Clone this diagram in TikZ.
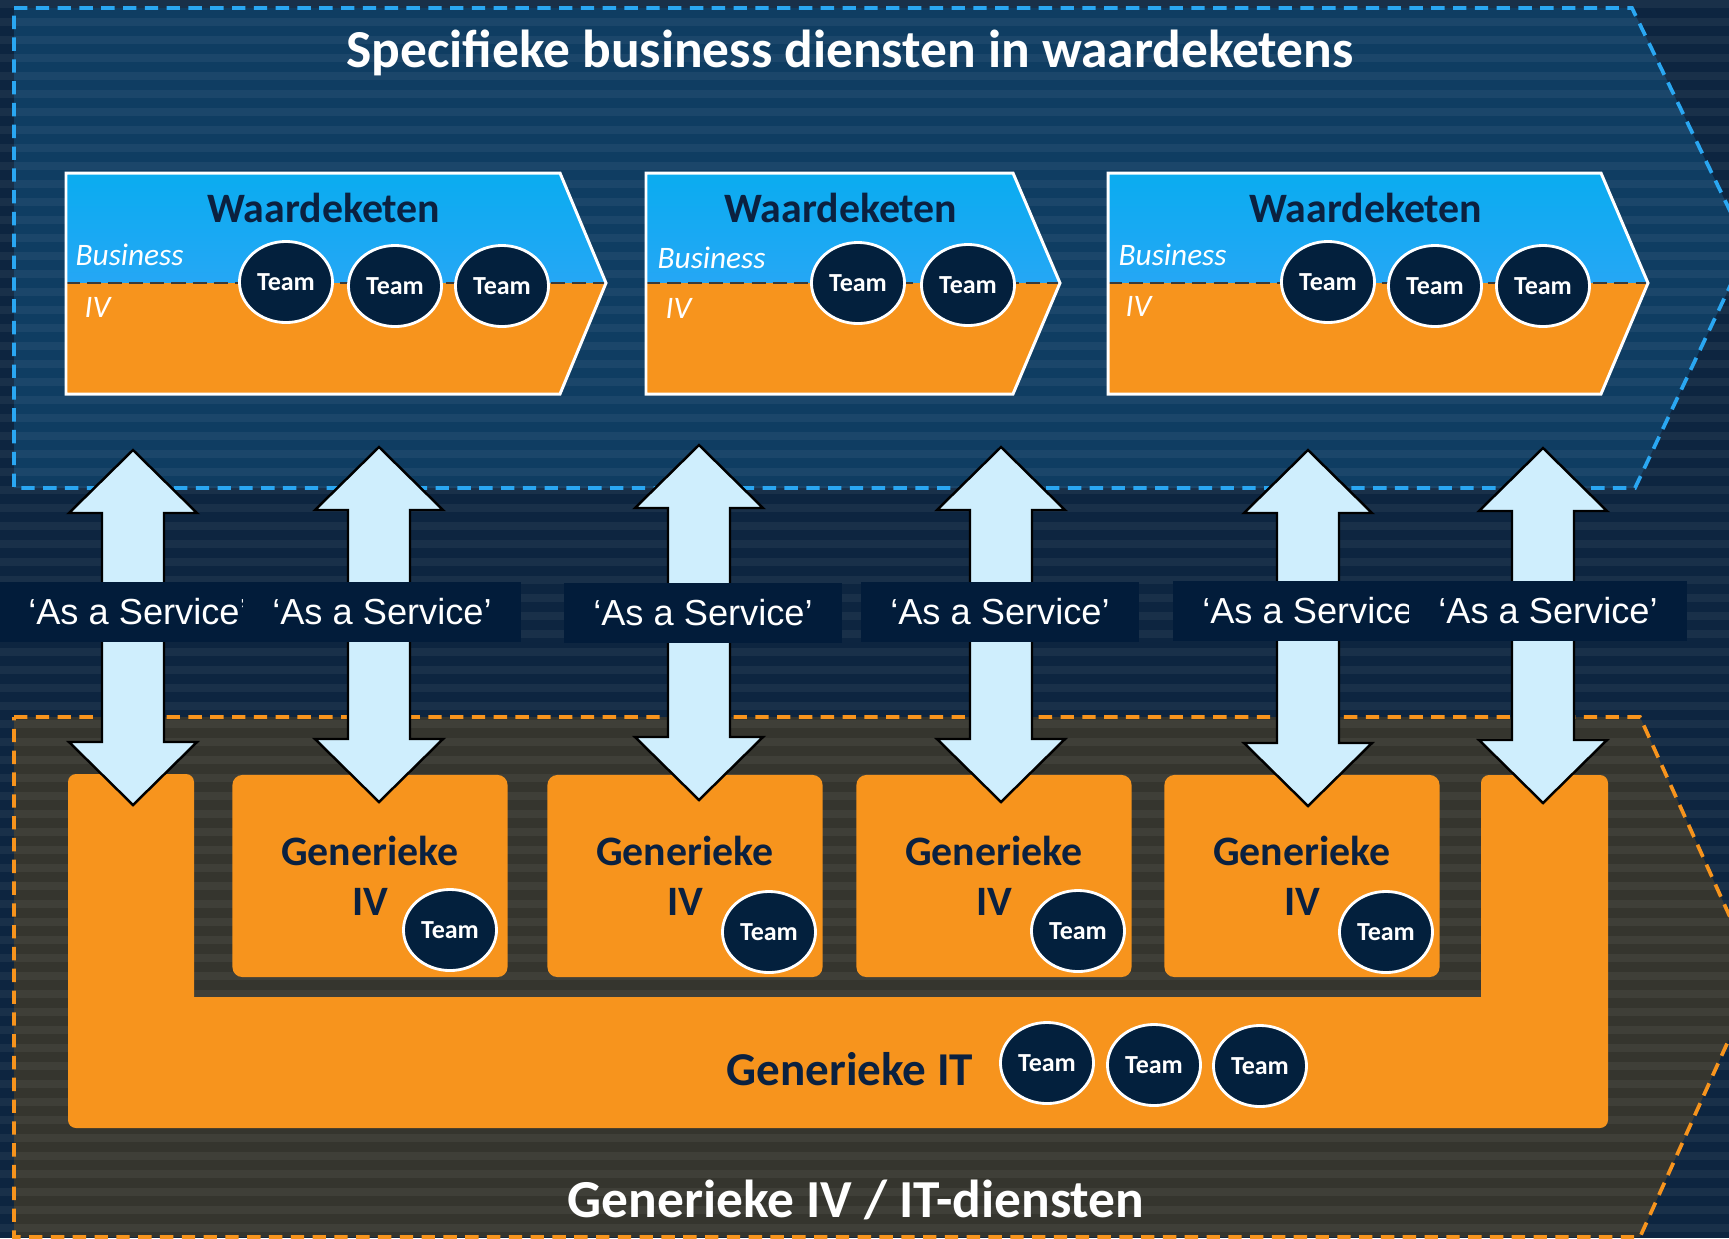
\documentclass[tikz,border=0pt]{standalone}
\usepackage{fontspec}
\setmainfont{Carlito}
\newfontfamily\arialf{Liberation Sans}
\usetikzlibrary{shapes.geometric,calc}
\definecolor{bgnavy}{HTML}{0D2540}
\definecolor{topreg}{HTML}{0F3D62}
\definecolor{botreg}{HTML}{35352E}
\definecolor{dashblue}{HTML}{2AA7F2}
\definecolor{dashorange}{HTML}{F7941D}
\definecolor{chevblueA}{HTML}{0AACF0}
\definecolor{chevblueB}{HTML}{25A7F5}
\definecolor{chevorange}{HTML}{F7941D}
\definecolor{teamnavy}{HTML}{03203D}
\definecolor{textnavy}{HTML}{0B2140}
\definecolor{arrowblue}{HTML}{CFEEFD}
\definecolor{labelnavy}{HTML}{021C3A}
\definecolor{divgray}{HTML}{3A3A3A}
\newcommand\chevshape[3]{%
  \shade[top color=chevblueA, bottom color=chevblueB] (#1,173) -- (#2,173) -- (#3,283) -- (#1,283) -- cycle;
  \fill[chevorange] (#1,283) -- (#3,283) -- (#2,394) -- (#1,394) -- cycle;
  \draw[divider] (#1,283) -- (#3,283);
  \draw[white, line width=0.85pt, line join=miter] (#1,173) -- (#2,173) -- (#3,283) -- (#2,394) -- (#1,394) -- cycle;
}
\newcommand\dblarrow[2]{%
  \draw[blockarrow] (#1) -- ($(#1)+(64,63)$) -- ($(#1)+(31,63)$) -- ($(#2)+(31,-63)$) -- ($(#2)+(64,-63)$) -- (#2) -- ($(#2)+(-64,-63)$) -- ($(#2)+(-31,-63)$) -- ($(#1)+(-31,63)$) -- ($(#1)+(-64,63)$) -- cycle;
}
\begin{document}
\begin{tikzpicture}[x=0.01cm,y=-0.01cm,
  teamcircle/.style={ellipse, fill=teamnavy, draw=white, line width=0.8pt, minimum width=0.93cm, minimum height=0.81cm, inner sep=0pt, text=white, font=\bfseries\fontsize{7.4}{9}\selectfont},
  svclabel/.style={fill=labelnavy, minimum width=2.78cm, minimum height=0.6cm, inner sep=0pt, text=white, font=\arialf\fontsize{10.3}{12}\selectfont},
  genbox/.style={fill=chevorange, rounded corners=0.1cm, minimum width=2.75cm, minimum height=2.02cm, inner sep=0pt},
  blockarrow/.style={fill=arrowblue, draw=black, line width=0.7pt, line join=miter},
  divider/.style={draw=divgray, line width=0.7pt, dash pattern=on 4pt off 2pt},
  chevtxt/.style={text=textnavy, font=\bfseries\fontsize{11.9}{14}\selectfont, inner sep=0pt},
  layertxt/.style={text=white, font=\itshape\fontsize{8.9}{10}\selectfont, inner sep=0pt},
  gentxt/.style={text=textnavy, font=\bfseries\fontsize{11.9}{14}\selectfont, inner sep=0pt},
  gentxtbig/.style={text=textnavy, font=\bfseries\fontsize{13.4}{16}\selectfont, inner sep=0pt},
  titletxt/.style={text=white, font=\bfseries\fontsize{15.2}{18}\selectfont, inner sep=0pt},
  regionblue/.style={draw=dashblue, line width=1.05pt, dash pattern=on 3.8pt off 2.4pt},
  regionorange/.style={draw=dashorange, line width=1.05pt, dash pattern=on 3.8pt off 2.4pt},
  strand/.style={draw=white, opacity=0.05, line width=2.2pt}
]
\useasboundingbox (0,0) rectangle (1729,1238);
\clip (0,0) rectangle (1729,1238);
\fill[bgnavy] (0,0) rectangle (1729,1238);

% regions
\fill[topreg] (14,8) -- (1632,8) -- (1748,248) -- (1635,488) -- (14,488) -- cycle;
\fill[botreg] (14,717) -- (1640,717) -- (1757,977) -- (1640,1237) -- (14,1237) -- cycle;
% faint woven texture
\foreach \yy in {4,22,...,1238}{\draw[strand] (0,\yy) -- (1729,\yy);}
\draw[regionblue] (14,8) -- (1632,8) -- (1748,248) -- (1635,488) -- (14,488) -- cycle;
\draw[regionorange] (14,717) -- (1640,717) -- (1757,977) -- (1640,1237) -- (14,1237) -- cycle;

% value chains
\chevshape{66}{560}{606}
\chevshape{646}{1013}{1060}
\chevshape{1108}{1601}{1648}

\node[chevtxt, anchor=base] (w1) at (324,222) {Waardeketen};
\node[chevtxt, anchor=base] (w2) at (841,222) {Waardeketen};
\node[chevtxt, anchor=base] (w3) at (1366,222) {Waardeketen};

\node[layertxt, anchor=base west] (b1) at (75,265) {Business};
\node[layertxt, anchor=base west] (i1) at (84,317) {IV};
\node[layertxt, anchor=base west] (b2) at (657,268) {Business};
\node[layertxt, anchor=base west] (i2) at (665,318) {IV};
\node[layertxt, anchor=base west] (b3) at (1118,265) {Business};
\node[layertxt, anchor=base west] (i3) at (1125,316) {IV};

\node[teamcircle] (t11) at (286,282) {Team};
\node[teamcircle] (t12) at (395,286) {Team};
\node[teamcircle] (t13) at (502,286) {Team};
\node[teamcircle] (t21) at (858,283) {Team};
\node[teamcircle] (t22) at (968,285) {Team};
\node[teamcircle] (t31) at (1328,282) {Team};
\node[teamcircle] (t32) at (1435,286) {Team};
\node[teamcircle] (t33) at (1543,286) {Team};

% generic IT U-shape
\fill[chevorange] [rounded corners=0.08cm] (68,1128) -- (68,774) -- (194,774) -- (194,860) [sharp corners] -- (194,997) -- (1481,997) -- (1481,860) [rounded corners=0.08cm] -- (1481,775) -- (1608,775) -- (1608,1128) -- cycle;

% generic IV boxes
\node[genbox] (gb1) at (370,876) {};
\node[genbox] (gb2) at (685,876) {};
\node[genbox] (gb3) at (994,876) {};
\node[genbox] (gb4) at (1302,876) {};
\foreach \n/\cx in {1/370,2/685,3/994,4/1302}{
  \node[gentxt, anchor=base] (gt\n a) at (\cx,865) {Generieke};
  \node[gentxt, anchor=base] (gt\n b) at (\cx,915) {IV};
}
\node[teamcircle] (tg1) at (450,930) {Team};
\node[teamcircle] (tg2) at (769,932) {Team};
\node[teamcircle] (tg3) at (1078,931) {Team};
\node[teamcircle] (tg4) at (1386,932) {Team};

\node[gentxtbig, anchor=base west] (git) at (726,1085) {Generieke IT};
\node[teamcircle] (ti1) at (1047,1063) {Team};
\node[teamcircle] (ti2) at (1154,1065) {Team};
\node[teamcircle] (ti3) at (1260,1066) {Team};

% double arrows
\coordinate (a1t) at (133,450); \coordinate (a1b) at (133,805);
\coordinate (a2t) at (379,447); \coordinate (a2b) at (379,802);
\coordinate (a3t) at (699,445); \coordinate (a3b) at (699,800);
\coordinate (a4t) at (1001,447); \coordinate (a4b) at (1001,802);
\coordinate (a5t) at (1308,450); \coordinate (a5b) at (1308,806);
\coordinate (a6t) at (1543,448); \coordinate (a6b) at (1543,803);
\dblarrow{a1t}{a1b}
\dblarrow{a2t}{a2b}
\dblarrow{a3t}{a3b}
\dblarrow{a4t}{a4b}
\dblarrow{a5t}{a5b}
\dblarrow{a6t}{a6b}

% service labels
\node[svclabel] (s1) at (138,612) {‘As a Service’};
\node[svclabel] (s2) at (382,612) {‘As a Service’};
\node[svclabel] (s3) at (703,613) {‘As a Service’};
\node[svclabel] (s4) at (1000,612) {‘As a Service’};
\node[svclabel] (s5) at (1312,611) {‘As a Service’};
\node[svclabel] (s6) at (1548,611) {‘As a Service’};

% titles
\node[titletxt, anchor=base] (title) at (850,67) {Specifieke business diensten in waardeketens};
\node[titletxt, anchor=base] (subtitle) at (856,1217) {Generieke IV / IT-diensten};
\end{tikzpicture}
\end{document}
